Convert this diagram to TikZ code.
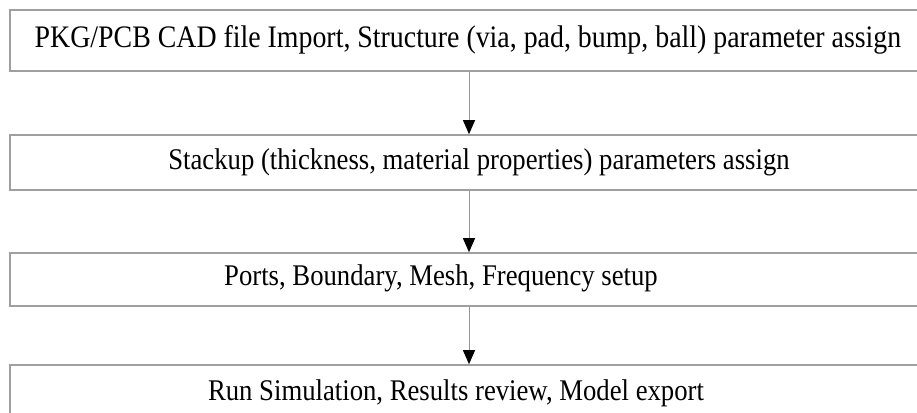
\documentclass[tikz,border=0pt]{standalone}
\usepackage{fontspec}
\setmainfont[FakeStretch=0.89]{Liberation Serif}
\usetikzlibrary{arrows.meta}
\begin{document}
\begin{tikzpicture}[x=1pt,y=-1pt,
		stepbox/.style={draw=gray!75,line width=1.6pt,minimum width=918pt,inner sep=0pt},
		steptext/.style={font=\fontsize{30pt}{33pt}\selectfont,inner sep=0pt},
		flow/.style={draw=gray!85,line width=1pt,-{Triangle[length=14pt,width=12pt,black]}}]
			\useasboundingbox (0,0) rectangle (917,412);
			\node[stepbox,minimum height=61pt] (import) at (469,40.5) {};
			\node[stepbox,minimum height=55pt] (stackup) at (469,162.5) {};
			\node[stepbox,minimum height=53pt] (ports) at (469,279.5) {};
			\node[stepbox,minimum height=62pt] (run) at (469,396) {};
			
			\node[steptext,font=\fontsize{31.3pt}{33pt}\selectfont] (importtxt) at (468,40) {PKG/PCB CAD file Import, Structure (via, pad, bump, ball) parameter assign};
			\node[steptext] (stackuptxt) at (479,162) {Stackup (thickness, material properties) parameters assign};
			\node[steptext] (portstxt) at (441,278) {Ports, Boundary, Mesh, Frequency setup};
			\node[steptext] (runtxt) at (456,393) {Run Simulation, Results review, Model export};
			
			\path[flow] (import) edge (stackup)
			(stackup) edge (ports)
			(ports) edge (run);
		\end{tikzpicture}
\end{document}
